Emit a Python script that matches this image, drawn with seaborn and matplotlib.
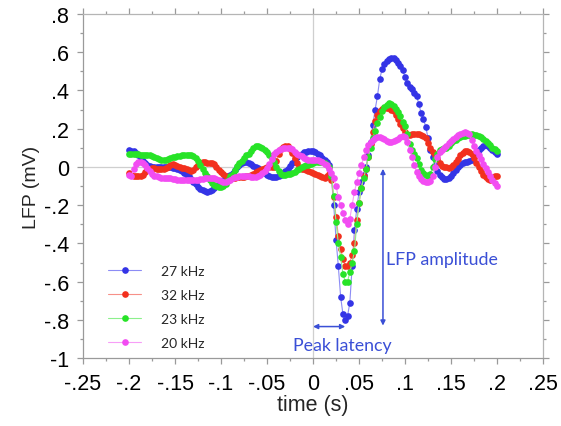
import numpy as np
import pandas as pd
import matplotlib
matplotlib.use("Agg")
import matplotlib.pyplot as plt
from matplotlib.ticker import AutoMinorLocator
import seaborn as sns

# Sample times (s), 2.5 ms spacing from -0.2 to 0.2
time_s = np.round(-0.2 + 0.0025 * np.arange(161), 4)

# LFP traces (mV), one value per sample, rows of 20 ms
lfp_27k = [
    0.09, 0.085, 0.085, 0.075, 0.06, 0.045, 0.03, 0.02,
    0.012, 0.006, 0.002, 0.0, 0.0, 0.0, 0.0, 0.0,
    0.0, 0.0, -0.002, -0.005, -0.008, -0.01, -0.015, -0.022,
    -0.03, -0.04, -0.05, -0.063, -0.078, -0.092, -0.105, -0.115,
    -0.123, -0.128, -0.13, -0.127, -0.12, -0.112, -0.10, -0.088,
    -0.076, -0.066, -0.058, -0.05, -0.043, -0.03, -0.015, 0.0,
    0.012, 0.022, 0.026, 0.024, 0.02, 0.014, 0.007, 0.0,
    -0.008, -0.016, -0.026, -0.034, -0.042, -0.048, -0.053, -0.055,
    -0.052, -0.046, -0.04, -0.032, -0.022, -0.01, 0.005, 0.02,
    0.035, 0.05, 0.062, 0.07, 0.076, 0.08, 0.084, 0.085,
    0.082, 0.076, 0.068, 0.06, 0.048, 0.036, 0.024, 0.01,
    -0.06, -0.2, -0.38, -0.52, -0.68, -0.77, -0.80, -0.78,
    -0.71, -0.52, -0.33, -0.22, -0.13, -0.08, -0.04, 0.0,
    0.06, 0.13, 0.22, 0.30, 0.37, 0.46, 0.51, 0.54,
    0.556, 0.565, 0.57, 0.57, 0.56, 0.545, 0.53, 0.505,
    0.47, 0.44, 0.42, 0.405, 0.385, 0.37, 0.33, 0.28,
    0.25, 0.21, 0.15, 0.09, 0.05, 0.01, -0.02, -0.042,
    -0.055, -0.063, -0.065, -0.06, -0.048, -0.032, -0.015, 0.0,
    0.012, 0.02, 0.024, 0.027, 0.03, 0.038, 0.055, 0.075,
    0.09, 0.1, 0.11, 0.112, 0.108, 0.1, 0.09, 0.078,
    0.065,
]
lfp_32k = [
    -0.03, -0.04, -0.045, -0.05, -0.05, -0.05, -0.04, -0.028,
    -0.018, -0.01, -0.008, -0.008, -0.01, -0.012, -0.012, -0.01,
    -0.005, 0.002, 0.01, 0.015, 0.012, 0.005, -0.002, -0.005,
    -0.008, -0.012, -0.018, -0.02, -0.015, -0.002, 0.012, 0.022,
    0.025, 0.025, 0.022, 0.02, 0.02, 0.015, 0.0, -0.015,
    -0.025, -0.035, -0.045, -0.052, -0.055, -0.056, -0.056, -0.055,
    -0.055, -0.055, -0.054, -0.05, -0.045, -0.04, -0.035, -0.028,
    -0.022, -0.016, -0.01, -0.006, -0.003, -0.001, 0.0, 0.002,
    0.03, 0.07, 0.095, 0.105, 0.11, 0.108, 0.095, 0.075,
    0.045, 0.02, 0.0, -0.01, -0.012, -0.014, -0.02, -0.025,
    -0.03, -0.035, -0.04, -0.048, -0.055, -0.058, -0.05, -0.035,
    -0.07, -0.16, -0.26, -0.36, -0.43, -0.48, -0.52, -0.52,
    -0.50, -0.46, -0.40, -0.28, -0.19, -0.11, -0.05, -0.01,
    0.05, 0.12, 0.18, 0.24, 0.27, 0.29, 0.305, 0.31,
    0.31, 0.31, 0.30, 0.29, 0.27, 0.25, 0.225, 0.205,
    0.18, 0.165, 0.165, 0.17, 0.172, 0.17, 0.17, 0.168,
    0.16, 0.15, 0.125, 0.1, 0.08, 0.06, 0.04, 0.02,
    0.005, 0.0, -0.003, -0.005, -0.002, 0.01, 0.025, 0.04,
    0.06, 0.075, 0.082, 0.085, 0.08, 0.065, 0.045, 0.02,
    0.0, -0.02, -0.04, -0.055, -0.065, -0.07, -0.06, -0.05,
    -0.045,
]
lfp_23k = [
    0.07, 0.07, 0.068, 0.066, 0.065, 0.064, 0.063, 0.062,
    0.061, 0.06, 0.056, 0.05, 0.045, 0.04, 0.036, 0.035,
    0.038, 0.043, 0.048, 0.05, 0.053, 0.056, 0.058, 0.06,
    0.06, 0.06, 0.06, 0.06, 0.058, 0.045, 0.03, 0.01,
    -0.01, -0.03, -0.05, -0.07, -0.085, -0.095, -0.1, -0.105,
    -0.105, -0.1, -0.09, -0.07, -0.05, -0.035, -0.015, 0.005,
    0.02, 0.03, 0.045, 0.06, 0.07, 0.085, 0.1, 0.11,
    0.11, 0.105, 0.098, 0.09, 0.08, 0.06, 0.045, 0.025,
    0.0, -0.02, -0.035, -0.04, -0.04, -0.038, -0.035, -0.03,
    -0.025, -0.018, -0.01, -0.002, 0.004, 0.008, 0.012, 0.016,
    0.022, 0.025, 0.025, 0.026, 0.025, 0.02, 0.012, 0.0,
    -0.05, -0.15, -0.29, -0.4, -0.47, -0.56, -0.6, -0.6,
    -0.55, -0.5, -0.44, -0.3, -0.19, -0.11, -0.06, -0.01,
    0.05, 0.1, 0.15, 0.19, 0.23, 0.26, 0.29, 0.315,
    0.325, 0.335, 0.33, 0.32, 0.305, 0.285, 0.265, 0.235,
    0.215, 0.17, 0.12, 0.09, 0.07, 0.045, 0.015, -0.015,
    -0.03, -0.04, -0.045, -0.035, 0.0, 0.04, 0.07, 0.09,
    0.095, 0.1, 0.1, 0.11, 0.125, 0.135, 0.14, 0.15,
    0.155, 0.16, 0.162, 0.165, 0.168, 0.17, 0.168, 0.165,
    0.16, 0.155, 0.148, 0.138, 0.125, 0.112, 0.1, 0.092,
    0.085,
]
lfp_20k = [
    -0.04, -0.045, -0.01, 0.015, 0.025, 0.025, 0.02, 0.01,
    -0.005, -0.02, -0.035, -0.045, -0.05, -0.055, -0.058, -0.06,
    -0.06, -0.06, -0.06, -0.062, -0.065, -0.068, -0.07, -0.07,
    -0.07, -0.07, -0.07, -0.07, -0.07, -0.068, -0.066, -0.064,
    -0.062, -0.06, -0.06, -0.06, -0.06, -0.06, -0.062, -0.066,
    -0.072, -0.078, -0.08, -0.076, -0.068, -0.06, -0.055, -0.052,
    -0.05, -0.047, -0.045, -0.046, -0.05, -0.054, -0.055, -0.052,
    -0.046, -0.04, -0.032, -0.02, -0.005, 0.015, 0.04, 0.065,
    0.08, 0.09, 0.095, 0.098, 0.1, 0.1, 0.098, 0.092,
    0.08, 0.068, 0.06, 0.055, 0.048, 0.042, 0.038, 0.036,
    0.035, 0.035, 0.034, 0.03, 0.024, 0.016, 0.008, -0.01,
    -0.03, -0.06, -0.1, -0.16, -0.2, -0.24, -0.28, -0.3,
    -0.27, -0.2, -0.13, -0.08, -0.03, 0.01, 0.05, 0.09,
    0.115, 0.13, 0.14, 0.15, 0.155, 0.155, 0.15, 0.145,
    0.138, 0.132, 0.13, 0.133, 0.14, 0.147, 0.155, 0.16,
    0.155, 0.13, 0.09, 0.05, 0.01, -0.025, -0.05, -0.065,
    -0.075, -0.08, -0.08, -0.075, -0.05, 0.0, 0.05, 0.08,
    0.09, 0.1, 0.11, 0.125, 0.135, 0.145, 0.158, 0.165,
    0.172, 0.178, 0.18, 0.178, 0.17, 0.14, 0.11, 0.085,
    0.06, 0.04, 0.015, -0.005, -0.025, -0.045, -0.07, -0.085,
    -0.1,
]

series_labels = ["27 kHz", "32 kHz", "23 kHz", "20 kHz"]
series_values = [lfp_27k, lfp_32k, lfp_23k, lfp_20k]

x_ticks = [-0.25, -0.2, -0.15, -0.1, -0.05, 0, 0.05, 0.1, 0.15, 0.2, 0.25]
x_tick_labels = ["-.25", "-.2", "-.15", "-.1", "-.05", "0", ".05", ".1", ".15", ".2", ".25"]
y_ticks = [-1, -0.8, -0.6, -0.4, -0.2, 0, 0.2, 0.4, 0.6, 0.8]
y_tick_labels = ["-1", "-.8", "-.6", "-.4", "-.2", "0", ".2", ".4", ".6", ".8"]

# Annotation geometry in data units
amp_time = 0.076
amp_top, amp_bottom = -0.01, -0.83
latency_start, latency_end, latency_level = 0.0, 0.035, -0.835

marker_colors = ["#3434e6", "#f2301e", "#27e327", "#f24cf2"]
line_colors = ["#8c8cf5", "#f79088", "#8cf08c", "#f79ef7"]
note_color = "#3a4fd6"

sns.set_style("ticks")
plt.rcParams["font.family"] = ["Liberation Sans", "DejaVu Sans"]

fig = plt.figure(figsize=(5.61, 4.27), dpi=100)
ax = fig.add_axes([0.148, 0.159, 0.82, 0.806])

ax.axhline(0, color="#cfcfcf", lw=0.9, zorder=0)
ax.axvline(0, color="#cfcfcf", lw=0.9, zorder=0)

frame = pd.DataFrame({"time": time_s})
for label, values, mc, lc in zip(series_labels, series_values, marker_colors, line_colors):
    frame[label] = values
    sns.lineplot(data=frame, x="time", y=label, ax=ax, color=lc, linewidth=0.8,
                 marker="o", markersize=4.8, markerfacecolor=mc, markeredgecolor=mc,
                 markeredgewidth=0, label=label, estimator=None, sort=False)

ax.set_xlim(-0.25, 0.25)
ax.set_ylim(-1, 0.8)
ax.set_xticks(x_ticks, labels=x_tick_labels)
ax.set_yticks(y_ticks, labels=y_tick_labels)
ax.xaxis.set_minor_locator(AutoMinorLocator(2))
ax.yaxis.set_minor_locator(AutoMinorLocator(2))
ax.tick_params(which="both", direction="out", top=True, right=True,
               labeltop=False, labelright=False, color="#9a9a9a", width=0.9)
ax.tick_params(which="major", length=4, labelsize=15.5, labelcolor="black")
ax.tick_params(which="minor", length=2.5)
ax.tick_params(axis="x", which="major", pad=7)
ax.tick_params(axis="y", which="major", pad=6)
for side, spine in ax.spines.items():
    spine.set_visible(True)
    spine.set_color("#9a9a9a" if side in ("left", "bottom") else "#b5b5b5")
    spine.set_linewidth(0.9)

ax.set_xlabel("time (s)", fontsize=15.5, labelpad=0)
ax.set_ylabel("LFP (mV)", fontsize=14, labelpad=3)

leg = ax.legend(loc="upper left", bbox_to_anchor=(0.027, 0.306), frameon=False,
                prop={"family": ["Lato", "DejaVu Sans"], "size": 10},
                labelspacing=0.85, handlelength=2.4, handletextpad=1.4)

arrow_kw = dict(arrowstyle="<|-|>", color=note_color, lw=1.1, mutation_scale=7,
                shrinkA=0, shrinkB=0)
ax.annotate("", xy=(amp_time, amp_bottom), xytext=(amp_time, amp_top), arrowprops=arrow_kw)
ax.annotate("", xy=(latency_start, latency_level), xytext=(latency_end, latency_level),
            arrowprops=arrow_kw)
ax.text(amp_time + 0.0035, -0.48, "LFP amplitude", color=note_color, fontsize=12.8,
        family=["Lato", "DejaVu Sans"], va="center", ha="left")
ax.text(-0.022, -0.93, "Peak latency", color=note_color, fontsize=12.8,
        family=["Lato", "DejaVu Sans"], va="center", ha="left")

fig.savefig("out.png", dpi=100)
